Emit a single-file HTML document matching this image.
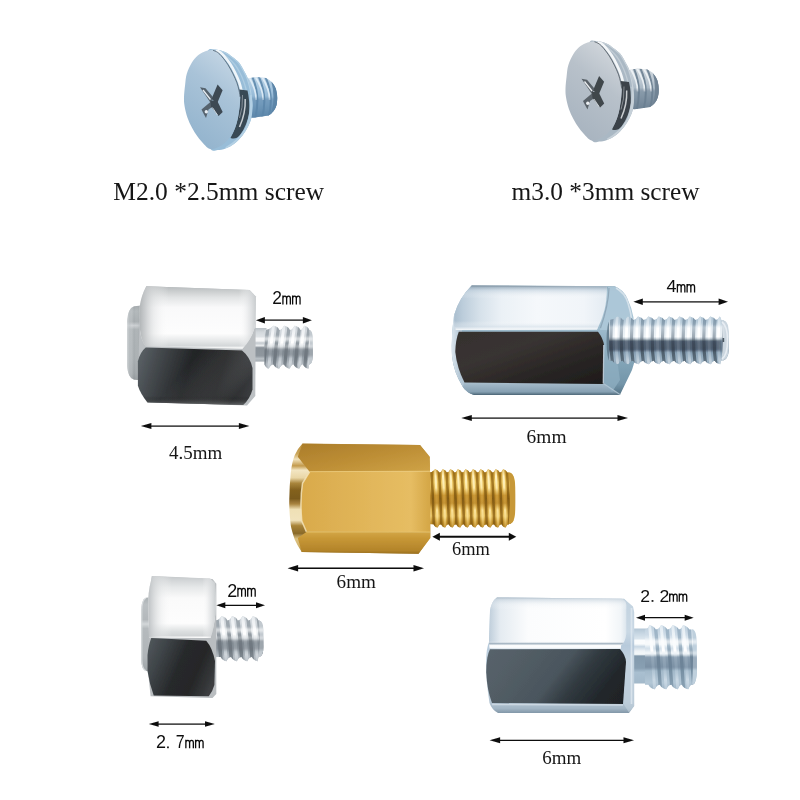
<!DOCTYPE html>
<html>
<head>
<meta charset="utf-8">
<title>Standoff and screw sizes</title>
<style>
html,body{margin:0;padding:0;background:#fff;}
body{width:800px;height:800px;overflow:hidden;position:relative;font-family:"Liberation Serif",serif;}
svg{position:absolute;left:0;top:0;display:block;}
.ser{font-family:"Liberation Serif",serif;fill:#151515;}
.san{font-family:"Liberation Sans",sans-serif;fill:#111;}
</style>
</head>
<body>
<svg width="800" height="800" viewBox="0 0 800 800">
<defs>
  <filter id="soft" x="-5%" y="-5%" width="110%" height="110%"><feGaussianBlur stdDeviation="0.55"/></filter>
  <filter id="soft2" x="-5%" y="-5%" width="110%" height="110%"><feGaussianBlur stdDeviation="1.0"/></filter>
  <filter id="soft3" x="-10%" y="-10%" width="120%" height="120%"><feGaussianBlur stdDeviation="2.2"/></filter>
  <filter id="tsoft" x="-5%" y="-20%" width="110%" height="140%"><feGaussianBlur stdDeviation="0.35"/></filter>
</defs>
<!-- screws -->
<g id="sc1" transform="translate(0 0)" filter="url(#soft)">
  <defs>
  <linearGradient id="sc1th" x1="0" y1="0" x2="0" y2="1">
    <stop offset="0" stop-color="#bcd3e5"/><stop offset="0.3" stop-color="#a3c4de"/><stop offset="0.65" stop-color="#86adcc"/><stop offset="1" stop-color="#5d86a9"/>
  </linearGradient>
  <linearGradient id="sc1face" x1="0.75" y1="0" x2="0.3" y2="1">
    <stop offset="0" stop-color="#c6d7e5"/><stop offset="0.4" stop-color="#a9c3d8"/><stop offset="1" stop-color="#92b3cd"/>
  </linearGradient>
  <clipPath id="sc1rimclip"><path d="M208,50.6 C209.9,48 211.57,49.18 214.4,49.4 C217.23,49.62 221.98,50.65 225,51.9 C228.02,53.15 230.17,55.13 232.5,56.9 C234.83,58.67 237.2,60.4 239,62.5 C240.8,64.6 242.13,67.5 243.3,69.5 C244.47,71.5 245.22,72.92 246,74.5 C246.78,76.08 247.33,77.08 248,79 C248.67,80.92 249.45,83.83 250,86 C250.55,88.17 250.97,90 251.3,92 C251.63,94 251.78,95.67 252,98 C252.22,100.33 252.68,102.75 252.6,106 C252.52,109.25 252.25,114.08 251.5,117.5 C250.75,120.92 249.6,123.5 248.1,126.5 C246.6,129.5 244.75,132.68 242.5,135.5 C240.25,138.32 237.42,141.25 234.6,143.4 C231.78,145.55 228.42,147.28 225.6,148.4 C222.78,149.52 220.13,149.92 217.7,150.1 C215.27,150.28 213.45,152.02 211,149.5 C208.55,146.98 204.83,143.25 203,135 C201.17,126.75 200,111.67 200,100 C200,88.33 201.67,73.23 203,65 C204.33,56.77 206.1,53.2 208,50.6 Z"/></clipPath>
  </defs>
  <!-- thread -->
  <clipPath id="sc1thc"><path d="M246,78.800 L256,77 L266,78 Q273,81.500 276,89 Q278.200,97 276.500,105 Q274.500,112 268.500,115.500 L253,117.800 L246,117 Z"/></clipPath>
  <path d="M246,78.800 L256,77 L266,78 Q273,81.500 276,89 Q278.200,97 276.500,105 Q274.500,112 268.500,115.500 L253,117.800 L246,117 Z" fill="url(#sc1th)"/>
  <g clip-path="url(#sc1thc)">
    <g stroke="#5a85a9" stroke-width="2" fill="none" opacity="0.85">
      <path d="M252,76 Q261,96 255,119"/><path d="M258.500,76 Q268,96 262,118"/><path d="M265,76 Q274.500,96 268.500,117"/><path d="M271,78 Q280,96 274,114"/>
    </g>
    <g stroke="#e3eff8" stroke-width="1.700" fill="none" opacity="0.9">
      <path d="M249,77 Q256.500,90 256,100"/><path d="M255.500,77 Q263.500,90 263,100"/><path d="M262,77 Q270,90 269.500,100"/>
    </g>
    <rect x="244" y="98" width="36" height="22" fill="#5d86a9" opacity="0.5" filter="url(#soft2)"/>
    <path d="M271,80 Q279,90 278,100 Q277,110 270,116 Q276.500,100 271,80Z" fill="#5b84a6" opacity="0.9"/>
  </g>
  <!-- rim -->
  <path d="M208,50.6 C209.9,48 211.57,49.18 214.4,49.4 C217.23,49.62 221.98,50.65 225,51.9 C228.02,53.15 230.17,55.13 232.5,56.9 C234.83,58.67 237.2,60.4 239,62.5 C240.8,64.6 242.13,67.5 243.3,69.5 C244.47,71.5 245.22,72.92 246,74.5 C246.78,76.08 247.33,77.08 248,79 C248.67,80.92 249.45,83.83 250,86 C250.55,88.17 250.97,90 251.3,92 C251.63,94 251.78,95.67 252,98 C252.22,100.33 252.68,102.75 252.6,106 C252.52,109.25 252.25,114.08 251.5,117.5 C250.75,120.92 249.6,123.5 248.1,126.5 C246.6,129.5 244.75,132.68 242.5,135.5 C240.25,138.32 237.42,141.25 234.6,143.4 C231.78,145.55 228.42,147.28 225.6,148.4 C222.78,149.52 220.13,149.92 217.7,150.1 C215.27,150.28 213.45,152.02 211,149.5 C208.55,146.98 204.83,143.25 203,135 C201.17,126.75 200,111.67 200,100 C200,88.33 201.67,73.23 203,65 C204.33,56.77 206.1,53.2 208,50.6 Z" fill="#98bdd8"/>
  <g clip-path="url(#sc1rimclip)">
    <path d="M214.4,49.4 C216.17,49.82 221.98,50.65 225,51.9 C228.02,53.15 230.17,55.13 232.5,56.9 C234.83,58.67 237.2,60.4 239,62.5 C240.8,64.6 242.13,67.5 243.3,69.5 C244.47,71.5 245.22,72.92 246,74.5 C246.78,76.08 247.33,77.08 248,79 C248.67,80.92 249.45,83.83 250,86 C250.55,88.17 250.97,90 251.3,92 C251.63,94 251.88,97 252,98 " stroke="#b3d0e4" stroke-width="2.400" fill="none"/>
    <path d="M222,53.5 C223.17,54.33 226.75,56.5 229,58.5 C231.25,60.5 233.67,63.08 235.5,65.5 C237.33,67.92 238.67,70.42 240,73 C241.33,75.58 242.5,78.33 243.5,81 C244.5,83.67 245.42,86.67 246,89 C246.58,91.33 246.83,94 247,95 " stroke="#b3d0e4" stroke-width="1.300" fill="none" opacity="0.8"/>
    <path d="M216,50.5 C216.67,50.8 218.62,51.33 220,52.3 C221.38,53.27 222.63,54.38 224.3,56.3 C225.97,58.22 228.2,61.05 230,63.8 C231.8,66.55 233.58,69.77 235.1,72.8 C236.62,75.83 238.05,79.1 239.1,82 C240.15,84.9 240.83,87.78 241.4,90.2 C241.97,92.62 242.32,95.45 242.5,96.5 " stroke="#f6fafc" stroke-width="2.600" fill="none" opacity="0.92"/>
    <path d="M239.300,89.500 L247.500,90.500 Q249.800,100 249.200,112 Q247.500,125 240,135 Q236,140 230.500,138 Q236,128 238,117.500 Q240,106 240.200,97 Z" fill="#394855"/>
    <path d="M245.200,99 Q245.800,113 239.500,127" stroke="#f6fafc" stroke-width="1.500" fill="none" opacity="0.75"/>
    <path d="M242.500,95 Q243,108 239.500,118" stroke="#f6fafc" stroke-width="0.800" fill="none" opacity="0.5"/>
    <path d="M251.300,95 Q252.800,112 247,128 Q240,141 226,148.500" stroke="#b3d0e4" stroke-width="3" fill="none"/>
  </g>
  <!-- face -->
  <path d="M212.1,50.1 C214.35,50.2 216.02,51.27 217.7,52.4 C219.38,53.53 220.5,54.85 222.2,56.9 C223.9,58.95 226.12,61.9 227.9,64.7 C229.68,67.5 231.4,70.7 232.9,73.7 C234.4,76.7 235.87,79.88 236.9,82.7 C237.93,85.52 238.55,88.22 239.1,90.6 C239.65,92.98 240.1,94.4 240.2,97 C240.3,99.6 240.07,102.78 239.7,106.2 C239.33,109.62 238.75,113.93 238,117.5 C237.25,121.07 236.33,124.6 235.2,127.6 C234.07,130.6 232.8,133.07 231.2,135.5 C229.6,137.93 227.47,140.42 225.6,142.2 C223.73,143.98 222.07,145.07 220,146.2 C217.93,147.33 215.08,148.63 213.2,149 C211.32,149.37 210.2,149.15 208.7,148.4 C207.2,147.65 206.07,146.47 204.2,144.5 C202.33,142.53 199.55,139.42 197.5,136.6 C195.45,133.78 193.58,130.78 191.9,127.6 C190.22,124.42 188.62,121.07 187.4,117.5 C186.18,113.93 185.17,109.62 184.6,106.2 C184.03,102.78 183.92,100.53 184,97 C184.08,93.47 184.63,88.88 185.1,85 C185.57,81.12 185.67,77.45 186.8,73.7 C187.93,69.95 190.12,65.5 191.9,62.5 C193.68,59.5 195.45,57.48 197.5,55.7 C199.55,53.92 201.77,52.73 204.2,51.8 C206.63,50.87 209.85,50 212.1,50.1 Z" fill="url(#sc1face)"/>
  <path d="M213,50.3 C213.78,50.65 216.17,51.3 217.7,52.4 C219.23,53.5 220.5,54.85 222.2,56.9 C223.9,58.95 226.12,61.9 227.9,64.7 C229.68,67.5 231.4,70.7 232.9,73.7 C234.4,76.7 235.87,79.88 236.9,82.7 C237.93,85.52 238.55,88.22 239.1,90.6 C239.65,92.98 240.02,95.93 240.2,97 " stroke="#394855" stroke-width="0.900" fill="none" opacity="0.75"/>
  <!-- cross -->
  <g>
    <path d="M200,87.300 L205.500,88.300 L212.500,96.500 L211,103.500 L206,96 Z" fill="#55626d"/>
    <path d="M203,90 L210.500,99.500" stroke="#e6edf3" stroke-width="1.300" fill="none"/>
    <path d="M201.500,109.500 L211,101.500 L214.500,105.500 L208.500,109.500 L206,118 L203.500,113.500 Z" fill="#55626d"/>
    <circle cx="206.300" cy="111.800" r="1.700" fill="#e6edf3"/>
    <path d="M211.500,99 L217.600,84.500 L222.600,90.300 L217.200,103.200 Z" fill="#3d4852"/>
    <path d="M210.500,100.500 L217,100.500 L222.700,112 L218.600,116 L211,106.500 Z" fill="#3d4852"/>
    <path d="M212.500,107.500 L217.500,115" stroke="#e6edf3" stroke-width="0.900" fill="none" opacity="0.8"/>
  </g>
</g>

<g id="sc2" transform="translate(381.5 -8.5)" filter="url(#soft)">
  <defs>
  <linearGradient id="sc2th" x1="0" y1="0" x2="0" y2="1">
    <stop offset="0" stop-color="#d0d7dd"/><stop offset="0.3" stop-color="#bcc8d2"/><stop offset="0.65" stop-color="#9aabb9"/><stop offset="1" stop-color="#6e8294"/>
  </linearGradient>
  <linearGradient id="sc2face" x1="0.75" y1="0" x2="0.3" y2="1">
    <stop offset="0" stop-color="#d3d8dd"/><stop offset="0.4" stop-color="#b8c1ca"/><stop offset="1" stop-color="#a7b3bf"/>
  </linearGradient>
  <clipPath id="sc2rimclip"><path d="M208,50.6 C209.9,48 211.57,49.18 214.4,49.4 C217.23,49.62 221.98,50.65 225,51.9 C228.02,53.15 230.17,55.13 232.5,56.9 C234.83,58.67 237.2,60.4 239,62.5 C240.8,64.6 242.13,67.5 243.3,69.5 C244.47,71.5 245.22,72.92 246,74.5 C246.78,76.08 247.33,77.08 248,79 C248.67,80.92 249.45,83.83 250,86 C250.55,88.17 250.97,90 251.3,92 C251.63,94 251.78,95.67 252,98 C252.22,100.33 252.68,102.75 252.6,106 C252.52,109.25 252.25,114.08 251.5,117.5 C250.75,120.92 249.6,123.5 248.1,126.5 C246.6,129.5 244.75,132.68 242.5,135.5 C240.25,138.32 237.42,141.25 234.6,143.4 C231.78,145.55 228.42,147.28 225.6,148.4 C222.78,149.52 220.13,149.92 217.7,150.1 C215.27,150.28 213.45,152.02 211,149.5 C208.55,146.98 204.83,143.25 203,135 C201.17,126.75 200,111.67 200,100 C200,88.33 201.67,73.23 203,65 C204.33,56.77 206.1,53.2 208,50.6 Z"/></clipPath>
  </defs>
  <!-- thread -->
  <clipPath id="sc2thc"><path d="M246,78.800 L256,77 L266,78 Q273,81.500 276,89 Q278.200,97 276.500,105 Q274.500,112 268.500,115.500 L253,117.800 L246,117 Z"/></clipPath>
  <path d="M246,78.800 L256,77 L266,78 Q273,81.500 276,89 Q278.200,97 276.500,105 Q274.500,112 268.500,115.500 L253,117.800 L246,117 Z" fill="url(#sc2th)"/>
  <g clip-path="url(#sc2thc)">
    <g stroke="#677c8e" stroke-width="2" fill="none" opacity="0.85">
      <path d="M252,76 Q261,96 255,119"/><path d="M258.500,76 Q268,96 262,118"/><path d="M265,76 Q274.500,96 268.500,117"/><path d="M271,78 Q280,96 274,114"/>
    </g>
    <g stroke="#f0f4f7" stroke-width="1.700" fill="none" opacity="0.9">
      <path d="M249,77 Q256.500,90 256,100"/><path d="M255.500,77 Q263.500,90 263,100"/><path d="M262,77 Q270,90 269.500,100"/>
    </g>
    <rect x="244" y="98" width="36" height="22" fill="#6e8294" opacity="0.5" filter="url(#soft2)"/>
    <path d="M271,80 Q279,90 278,100 Q277,110 270,116 Q276.500,100 271,80Z" fill="#6f8292" opacity="0.9"/>
  </g>
  <!-- rim -->
  <path d="M208,50.6 C209.9,48 211.57,49.18 214.4,49.4 C217.23,49.62 221.98,50.65 225,51.9 C228.02,53.15 230.17,55.13 232.5,56.9 C234.83,58.67 237.2,60.4 239,62.5 C240.8,64.6 242.13,67.5 243.3,69.5 C244.47,71.5 245.22,72.92 246,74.5 C246.78,76.08 247.33,77.08 248,79 C248.67,80.92 249.45,83.83 250,86 C250.55,88.17 250.97,90 251.3,92 C251.63,94 251.78,95.67 252,98 C252.22,100.33 252.68,102.75 252.6,106 C252.52,109.25 252.25,114.08 251.5,117.5 C250.75,120.92 249.6,123.5 248.1,126.5 C246.6,129.5 244.75,132.68 242.5,135.5 C240.25,138.32 237.42,141.25 234.6,143.4 C231.78,145.55 228.42,147.28 225.6,148.4 C222.78,149.52 220.13,149.92 217.7,150.1 C215.27,150.28 213.45,152.02 211,149.5 C208.55,146.98 204.83,143.25 203,135 C201.17,126.75 200,111.67 200,100 C200,88.33 201.67,73.23 203,65 C204.33,56.77 206.1,53.2 208,50.6 Z" fill="#aab8c4"/>
  <g clip-path="url(#sc2rimclip)">
    <path d="M214.4,49.4 C216.17,49.82 221.98,50.65 225,51.9 C228.02,53.15 230.17,55.13 232.5,56.9 C234.83,58.67 237.2,60.4 239,62.5 C240.8,64.6 242.13,67.5 243.3,69.5 C244.47,71.5 245.22,72.92 246,74.5 C246.78,76.08 247.33,77.08 248,79 C248.67,80.92 249.45,83.83 250,86 C250.55,88.17 250.97,90 251.3,92 C251.63,94 251.88,97 252,98 " stroke="#c6d0d8" stroke-width="2.400" fill="none"/>
    <path d="M222,53.5 C223.17,54.33 226.75,56.5 229,58.5 C231.25,60.5 233.67,63.08 235.5,65.5 C237.33,67.92 238.67,70.42 240,73 C241.33,75.58 242.5,78.33 243.5,81 C244.5,83.67 245.42,86.67 246,89 C246.58,91.33 246.83,94 247,95 " stroke="#c6d0d8" stroke-width="1.300" fill="none" opacity="0.8"/>
    <path d="M216,50.5 C216.67,50.8 218.62,51.33 220,52.3 C221.38,53.27 222.63,54.38 224.3,56.3 C225.97,58.22 228.2,61.05 230,63.8 C231.8,66.55 233.58,69.77 235.1,72.8 C236.62,75.83 238.05,79.1 239.1,82 C240.15,84.9 240.83,87.78 241.4,90.2 C241.97,92.62 242.32,95.45 242.5,96.5 " stroke="#fafbfc" stroke-width="2.600" fill="none" opacity="0.92"/>
    <path d="M239.300,89.500 L247.500,90.500 Q249.800,100 249.200,112 Q247.500,125 240,135 Q236,140 230.500,138 Q236,128 238,117.500 Q240,106 240.200,97 Z" fill="#3a4249"/>
    <path d="M245.200,99 Q245.800,113 239.500,127" stroke="#fafbfc" stroke-width="1.500" fill="none" opacity="0.75"/>
    <path d="M242.500,95 Q243,108 239.500,118" stroke="#fafbfc" stroke-width="0.800" fill="none" opacity="0.5"/>
    <path d="M251.300,95 Q252.800,112 247,128 Q240,141 226,148.500" stroke="#c6d0d8" stroke-width="3" fill="none"/>
  </g>
  <!-- face -->
  <path d="M212.1,50.1 C214.35,50.2 216.02,51.27 217.7,52.4 C219.38,53.53 220.5,54.85 222.2,56.9 C223.9,58.95 226.12,61.9 227.9,64.7 C229.68,67.5 231.4,70.7 232.9,73.7 C234.4,76.7 235.87,79.88 236.9,82.7 C237.93,85.52 238.55,88.22 239.1,90.6 C239.65,92.98 240.1,94.4 240.2,97 C240.3,99.6 240.07,102.78 239.7,106.2 C239.33,109.62 238.75,113.93 238,117.5 C237.25,121.07 236.33,124.6 235.2,127.6 C234.07,130.6 232.8,133.07 231.2,135.5 C229.6,137.93 227.47,140.42 225.6,142.2 C223.73,143.98 222.07,145.07 220,146.2 C217.93,147.33 215.08,148.63 213.2,149 C211.32,149.37 210.2,149.15 208.7,148.4 C207.2,147.65 206.07,146.47 204.2,144.5 C202.33,142.53 199.55,139.42 197.5,136.6 C195.45,133.78 193.58,130.78 191.9,127.6 C190.22,124.42 188.62,121.07 187.4,117.5 C186.18,113.93 185.17,109.62 184.6,106.2 C184.03,102.78 183.92,100.53 184,97 C184.08,93.47 184.63,88.88 185.1,85 C185.57,81.12 185.67,77.45 186.8,73.7 C187.93,69.95 190.12,65.5 191.9,62.5 C193.68,59.5 195.45,57.48 197.5,55.7 C199.55,53.92 201.77,52.73 204.2,51.8 C206.63,50.87 209.85,50 212.1,50.1 Z" fill="url(#sc2face)"/>
  <path d="M213,50.3 C213.78,50.65 216.17,51.3 217.7,52.4 C219.23,53.5 220.5,54.85 222.2,56.9 C223.9,58.95 226.12,61.9 227.9,64.7 C229.68,67.5 231.4,70.7 232.9,73.7 C234.4,76.7 235.87,79.88 236.9,82.7 C237.93,85.52 238.55,88.22 239.1,90.6 C239.65,92.98 240.02,95.93 240.2,97 " stroke="#3a4249" stroke-width="0.900" fill="none" opacity="0.75"/>
  <!-- cross -->
  <g>
    <path d="M200,87.300 L205.500,88.300 L212.500,96.500 L211,103.500 L206,96 Z" fill="#5a6269"/>
    <path d="M203,90 L210.500,99.500" stroke="#eceff2" stroke-width="1.300" fill="none"/>
    <path d="M201.500,109.500 L211,101.500 L214.500,105.500 L208.500,109.500 L206,118 L203.500,113.500 Z" fill="#5a6269"/>
    <circle cx="206.300" cy="111.800" r="1.700" fill="#eceff2"/>
    <path d="M211.500,99 L217.600,84.500 L222.600,90.300 L217.200,103.200 Z" fill="#3f464c"/>
    <path d="M210.500,100.500 L217,100.500 L222.700,112 L218.600,116 L211,106.500 Z" fill="#3f464c"/>
    <path d="M212.500,107.500 L217.500,115" stroke="#eceff2" stroke-width="0.900" fill="none" opacity="0.8"/>
  </g>
</g>

<!-- standoff 1 -->
<g id="st1" filter="url(#soft)">
  <defs>
    <linearGradient id="st1fl" gradientUnits="userSpaceOnUse" x1="0" y1="305" x2="0" y2="381"><stop offset="0" stop-color="#9da3a6"/><stop offset="0.08" stop-color="#aeb4b7"/><stop offset="0.22" stop-color="#a4aaad"/><stop offset="0.27" stop-color="#c9cdd0"/><stop offset="0.32" stop-color="#a9afb2"/><stop offset="0.7" stop-color="#a5abae"/><stop offset="0.9" stop-color="#9ca2a5"/><stop offset="1" stop-color="#8d9396"/></linearGradient>
    <linearGradient id="st1fh" gradientUnits="userSpaceOnUse" x1="127" y1="0" x2="141" y2="0"><stop offset="0" stop-color="#d5d9db" stop-opacity="0.9"/><stop offset="0.2" stop-color="#c5cacd" stop-opacity="0.5"/><stop offset="0.5" stop-color="#fff" stop-opacity="0"/><stop offset="1" stop-color="#8f9598" stop-opacity="0.4"/></linearGradient>
    <linearGradient id="st1top" gradientUnits="userSpaceOnUse" x1="0" y1="287" x2="0" y2="349"><stop offset="0" stop-color="#b9bdbf"/><stop offset="0.07" stop-color="#cbcecf"/><stop offset="0.17" stop-color="#e2e4e5"/><stop offset="0.33" stop-color="#f9f9fa"/><stop offset="0.75" stop-color="#fdfdfd"/><stop offset="0.88" stop-color="#e3e5e6"/><stop offset="0.95" stop-color="#d3d6d8"/><stop offset="0.98" stop-color="#f6f7f7"/><stop offset="1" stop-color="#ffffff"/></linearGradient>
    <linearGradient id="st1topl" gradientUnits="userSpaceOnUse" x1="139.500" y1="0" x2="256.500" y2="0"><stop offset="0" stop-color="#adb1b3" stop-opacity="0.95"/><stop offset="0.05" stop-color="#c3c6c8" stop-opacity="0.85"/><stop offset="0.12" stop-color="#dcdedf" stop-opacity="0.5"/><stop offset="0.25" stop-color="#ffffff" stop-opacity="0"/><stop offset="0.85" stop-color="#ffffff" stop-opacity="0"/><stop offset="0.93" stop-color="#dfe1e3" stop-opacity="0.6"/><stop offset="1" stop-color="#c3c7c9" stop-opacity="0.95"/></linearGradient>
    <linearGradient id="st1dk" gradientUnits="userSpaceOnUse" x1="138" y1="350" x2="253" y2="385"><stop offset="0" stop-color="#5c6368"/><stop offset="0.16" stop-color="#474c50"/><stop offset="0.45" stop-color="#232527"/><stop offset="0.72" stop-color="#1f2021"/><stop offset="0.9" stop-color="#303234"/><stop offset="1" stop-color="#3a3c3f"/></linearGradient>
    <linearGradient id="st1dk2" gradientUnits="userSpaceOnUse" x1="0" y1="346" x2="0" y2="405">
      <stop offset="0" stop-color="#000" stop-opacity="0"/><stop offset="0.85" stop-color="#000" stop-opacity="0"/><stop offset="1" stop-color="#7c7f81" stop-opacity="0.65"/>
    </linearGradient>
    <linearGradient id="st1dk3" gradientUnits="userSpaceOnUse" x1="200" y1="350" x2="255" y2="395">
      <stop offset="0" stop-color="#fff" stop-opacity="0"/><stop offset="0.55" stop-color="#9a9da0" stop-opacity="0.18"/><stop offset="0.8" stop-color="#fff" stop-opacity="0"/>
    </linearGradient>
    <linearGradient id="st1nk" gradientUnits="userSpaceOnUse" x1="0" y1="328" x2="0" y2="362"><stop offset="0" stop-color="#b9c0c5"/><stop offset="0.12" stop-color="#d3d8dc"/><stop offset="0.26" stop-color="#dfe3e6"/><stop offset="0.3" stop-color="#f6f7f8"/><stop offset="0.38" stop-color="#f6f7f8"/><stop offset="0.44" stop-color="#c2c8cd"/><stop offset="0.52" stop-color="#e9ecee"/><stop offset="0.58" stop-color="#8a9299"/><stop offset="0.82" stop-color="#8f979e"/><stop offset="0.9" stop-color="#b9c0c5"/><stop offset="1" stop-color="#a1a8ae"/></linearGradient>
  </defs>
  <!-- flange -->
  <path d="M142,305.600 L134,306.200 Q127.600,308.500 127.300,321 L127.300,366 Q127.800,378 134,379.800 L142,380.300 Z" fill="url(#st1fl)"/>
  <path d="M142,305.600 L134,306.200 Q127.600,308.500 127.300,321 L127.300,366 Q127.800,378 134,379.800 L142,380.300 Z" fill="url(#st1fh)"/>
  <!-- neck -->
  <rect x="252" y="328" width="14.500" height="33.600" fill="url(#st1nk)"/>
  <defs><linearGradient id="st1tg" gradientUnits="userSpaceOnUse" x1="0" y1="325.7" x2="0" y2="368.6"><stop offset="0" stop-color="#c3cad0"/><stop offset="0.12" stop-color="#d5dadf"/><stop offset="0.25" stop-color="#cdd3d8"/><stop offset="0.34" stop-color="#e6eaed"/><stop offset="0.44" stop-color="#dfe3e7"/><stop offset="0.52" stop-color="#aeb6bd"/><stop offset="0.6" stop-color="#8f98a0"/><stop offset="0.78" stop-color="#9aa3ab"/><stop offset="0.9" stop-color="#b5bcc3"/><stop offset="1" stop-color="#a3abb2"/></linearGradient><linearGradient id="st1tgr" gradientUnits="userSpaceOnUse" x1="0" y1="325.7" x2="0" y2="368.6"><stop offset="0" stop-color="#8c969e" stop-opacity="0.75"/><stop offset="0.3" stop-color="#929ca4" stop-opacity="0.8"/><stop offset="0.5" stop-color="#737c84" stop-opacity="0.9"/><stop offset="0.75" stop-color="#6b747c" stop-opacity="0.9"/><stop offset="1" stop-color="#7b858d" stop-opacity="0.85"/></linearGradient><linearGradient id="st1thl" gradientUnits="userSpaceOnUse" x1="0" y1="325.7" x2="0" y2="368.6"><stop offset="0" stop-color="#e9edf0" stop-opacity="0.9"/><stop offset="0.2" stop-color="#f4f6f8" stop-opacity="0.95"/><stop offset="0.4" stop-color="#ffffff" stop-opacity="1"/><stop offset="0.52" stop-color="#d0d6db" stop-opacity="0.6"/><stop offset="0.65" stop-color="#b7bfc6" stop-opacity="0.7"/><stop offset="0.85" stop-color="#d3d9de" stop-opacity="0.9"/><stop offset="1" stop-color="#c6cdd3" stop-opacity="0.85"/></linearGradient><clipPath id="st1tc"><path d="M264.5,329.9 Q269.05,329.9 273.6,325.7 Q277.64,326.33 279.38,329.9 Q281.74,329.9 284.1,325.7 Q288.14,326.33 289.88,329.9 Q292.24,329.9 294.6,325.7 Q298.64,326.33 300.38,329.9 Q302.29,329.9 304.2,325.7 Q307.77,326.33 309.3,329.9 Q312.8,330.4 312.8,339.39 L312.8,354.91 Q312.8,363.9 309.3,364.4 Q308.95,364.4 308.6,368.6 Q304.56,367.97 302.83,364.4 Q301.06,364.4 299.3,368.6 Q295.26,367.97 293.53,364.4 Q291.61,364.4 289.7,368.6 Q285.66,367.97 283.93,364.4 Q281.56,364.4 279.2,368.6 Q275.16,367.97 273.43,364.4 Q271.06,364.4 268.7,368.6 Q265.76,367.97 264.5,364.4 L264.5,364.4 Z"/></clipPath></defs>
<path d="M264.5,329.9 Q269.05,329.9 273.6,325.7 Q277.64,326.33 279.38,329.9 Q281.74,329.9 284.1,325.7 Q288.14,326.33 289.88,329.9 Q292.24,329.9 294.6,325.7 Q298.64,326.33 300.38,329.9 Q302.29,329.9 304.2,325.7 Q307.77,326.33 309.3,329.9 Q312.8,330.4 312.8,339.39 L312.8,354.91 Q312.8,363.9 309.3,364.4 Q308.95,364.4 308.6,368.6 Q304.56,367.97 302.83,364.4 Q301.06,364.4 299.3,368.6 Q295.26,367.97 293.53,364.4 Q291.61,364.4 289.7,368.6 Q285.66,367.97 283.93,364.4 Q281.56,364.4 279.2,368.6 Q275.16,367.97 273.43,364.4 Q271.06,364.4 268.7,368.6 Q265.76,367.97 264.5,364.4 L264.5,364.4 Z" fill="url(#st1tg)"/>
<g clip-path="url(#st1tc)">
<path d="M278.85,324.7 Q275.6,347.15 273.95,369.6" stroke="url(#st1tgr)" stroke-width="3.3" fill="none"/>
<path d="M273.6,324.7 Q270.35,347.15 268.7,369.6" stroke="url(#st1thl)" stroke-width="3.0" fill="none"/>
<path d="M289.35,324.7 Q286.1,347.15 284.45,369.6" stroke="url(#st1tgr)" stroke-width="3.3" fill="none"/>
<path d="M284.1,324.7 Q280.85,347.15 279.2,369.6" stroke="url(#st1thl)" stroke-width="3.0" fill="none"/>
<path d="M299.85,324.7 Q296.6,347.15 294.95,369.6" stroke="url(#st1tgr)" stroke-width="3.3" fill="none"/>
<path d="M294.6,324.7 Q291.35,347.15 289.7,369.6" stroke="url(#st1thl)" stroke-width="3.0" fill="none"/>
<path d="M309.45,324.7 Q306.2,347.15 304.55,369.6" stroke="url(#st1tgr)" stroke-width="3.3" fill="none"/>
<path d="M304.2,324.7 Q300.95,347.15 299.3,369.6" stroke="url(#st1thl)" stroke-width="3.0" fill="none"/>
<path d="M313.5,324.7 Q310.25,347.15 308.6,369.6" stroke="url(#st1thl)" stroke-width="3.0" fill="none"/>
<path d="M268.35,324.7 Q265.1,347.15 263.45,369.6" stroke="url(#st1tgr)" stroke-width="3.3" fill="none"/>
<path d="M308.8,325.7 Q313.8,329.9 313.3,347.15 Q313.8,364.4 308.8,368.6 Q310.88,347.15 308.8,325.7 Z" fill="#c2c9cf"/>
<g filter="url(#soft2)"><rect x="255" y="336.800" width="60" height="4.200" fill="#ffffff" opacity="0.55"/><rect x="255" y="345.300" width="60" height="2" fill="#ffffff" opacity="0.45"/><rect x="255" y="348" width="60" height="8.500" fill="#6c747b" opacity="0.42"/></g></g>

  <!-- gray chamfer backing (right side) -->
  <path d="M146.400,286.300 L249.500,290 L255.800,296.500 L255.300,396 L247,405.400 L150,402.300 L138.300,370 L139.800,306 Z" fill="#bcc0c3"/>
  <!-- top light face -->
  <path d="M146.400,286.300 L249.500,290 L255.800,296.500 Q256.300,315 254.500,328 Q251,340 242.500,348.800 L145.500,346.200 Q141,340 140,330 L139.800,306 Q141.500,295 146.400,286.300 Z" fill="url(#st1top)"/>
  <path d="M146.400,286.300 L249.500,290 L255.800,296.500 Q256.300,315 254.500,328 Q251,340 242.500,348.800 L145.500,346.200 Q141,340 140,330 L139.800,306 Q141.500,295 146.400,286.300 Z" fill="url(#st1topl)"/>
  <!-- dark face -->
  <path d="M145.750,347.400 L242,350.600 Q250,357 252.500,368 L252.500,389.500 Q250,399 243,405 L147.500,402.400 Q140.500,394 137.900,385.750 L137.900,361.250 Q140,352 145.750,347.400 Z" fill="url(#st1dk)"/>
  <path d="M145.750,347.400 L242,350.600 Q250,357 252.500,368 L252.500,389.500 Q250,399 243,405 L147.500,402.400 Q140.500,394 137.900,385.750 L137.900,361.250 Q140,352 145.750,347.400 Z" fill="url(#st1dk2)"/>
  <path d="M145.750,347.400 L242,350.600 Q250,357 252.500,368 L252.500,389.500 Q250,399 243,405 L147.500,402.400 Q140.500,394 137.900,385.750 L137.900,361.250 Q140,352 145.750,347.400 Z" fill="url(#st1dk3)"/>
</g>

<!-- standoff 2 -->
<g id="st2" filter="url(#soft)">
  <defs>
    <linearGradient id="st2top" gradientUnits="userSpaceOnUse" x1="452" y1="0" x2="607" y2="0"><stop offset="0" stop-color="#a5bacb"/><stop offset="0.07" stop-color="#bccddb"/><stop offset="0.18" stop-color="#d6e1ea"/><stop offset="0.32" stop-color="#ebf1f6"/><stop offset="0.55" stop-color="#f5f8fb"/><stop offset="0.85" stop-color="#f1f5f9"/><stop offset="1" stop-color="#e3ebf2"/></linearGradient>
    <linearGradient id="st2topv" gradientUnits="userSpaceOnUse" x1="0" y1="285" x2="0" y2="330">
      <stop offset="0" stop-color="#586d7e" stop-opacity="0.95"/><stop offset="0.05" stop-color="#8da2b3" stop-opacity="0.7"/><stop offset="0.12" stop-color="#b9cad8" stop-opacity="0.5"/><stop offset="0.3" stop-color="#fff" stop-opacity="0"/><stop offset="0.8" stop-color="#fff" stop-opacity="0"/><stop offset="0.92" stop-color="#d5e0e9" stop-opacity="0.6"/><stop offset="1" stop-color="#ffffff" stop-opacity="0.9"/>
    </linearGradient>
    <linearGradient id="st2dk" x1="0" y1="0" x2="1" y2="1">
      <stop offset="0" stop-color="#35302e"/><stop offset="0.35" stop-color="#393432"/><stop offset="0.7" stop-color="#282524"/><stop offset="1" stop-color="#1d1b1a"/>
    </linearGradient>
    <linearGradient id="st2bot" gradientUnits="userSpaceOnUse" x1="0" y1="381" x2="0" y2="395.500">
      <stop offset="0" stop-color="#b3c6d3"/><stop offset="0.3" stop-color="#9db4c4"/><stop offset="0.75" stop-color="#86a0b2"/><stop offset="0.9" stop-color="#5d7889"/><stop offset="1" stop-color="#3c5564"/>
    </linearGradient>
    <linearGradient id="st2rt" gradientUnits="userSpaceOnUse" x1="0" y1="285" x2="0" y2="395"><stop offset="0" stop-color="#86a3b5"/><stop offset="0.06" stop-color="#a3c0d0"/><stop offset="0.3" stop-color="#a9c5d5"/><stop offset="0.45" stop-color="#98b6c8"/><stop offset="0.7" stop-color="#82a4b7"/><stop offset="0.9" stop-color="#7395a9"/><stop offset="1" stop-color="#557385"/></linearGradient>
    <linearGradient id="st2lf" gradientUnits="userSpaceOnUse" x1="451" y1="0" x2="475" y2="0">
      <stop offset="0" stop-color="#dfe8ef"/><stop offset="0.35" stop-color="#b7c9d7"/><stop offset="1" stop-color="#a3b9c9"/>
    </linearGradient>
  </defs>
  <path d="M471.800,285.400 L614.750,286.200 Q624,290 627.500,298.750 Q631.500,307 633.500,317.500 L634.250,362.500 L632,370 L620,394.750 L474,395 Q466,392 462.900,387 Q453.500,372 452,356 Q451,335 454,315.600 Q459,298 471.800,285.400 Z" fill="url(#st2rt)"/>
  <!-- left rounded edge -->
  <path d="M471.800,285.400 Q459,298 454,315.600 Q451,335 452,356 Q453.500,372 462.900,387 Q466,392 474,395 L476,382 L462,360 L462,325 L476,290 Z" fill="url(#st2lf)"/>
  <!-- bottom face -->
  <path d="M464,382 L604,383.800 L620.500,394.800 L474,395 Q466,392 462.900,387 Z" fill="url(#st2bot)"/>
  <!-- top face -->
  <path d="M471.800,285.600 L606.800,286.400 Q607,300 604.500,310 Q602,320 597,329.500 L455.500,330 Q453.500,322 454.500,314 Q459,298 471.800,285.600 Z" fill="url(#st2top)"/>
  <path d="M471.800,285.600 L606.800,286.400 Q607,300 604.500,310 Q602,320 597,329.500 L455.500,330 Q453.500,322 454.500,314 Q459,298 471.800,285.600 Z" fill="url(#st2topv)"/>
  <!-- dark face -->
  <path d="M458.800,331.700 L598,331.700 Q603,338 604,345 L603.500,384 L464.500,382.400 Q457,368 455.300,352 Q455.500,340 458.800,331.700 Z" fill="url(#st2dk)"/>
  <!-- right chamfer accents -->
  <path d="M608,287 L614.750,286.600 Q624,290.500 627,299 Q630.500,307 632.500,318 L632.800,330 L600,330 Q605,318 607,305 Z" fill="#adc8d8" opacity="0.9"/>
  <path d="M609,288 Q608.500,305 600.500,328" stroke="#8ca3b5" stroke-width="1.200" fill="none" opacity="0.9"/>
  <path d="M616,288 Q625,293 628,303 Q631,312 632,322" stroke="#dbe5ed" stroke-width="1.600" fill="none" opacity="0.85"/>
  <path d="M604.500,346 Q612,352 618,366 L620,380 L612,392 L604,383 Z" fill="#8fafc1" opacity="0.75"/>
  <path d="M603.800,345 L603.300,383.500" stroke="#c3d3df" stroke-width="1.300" fill="none" opacity="0.9"/>
  <path d="M603.500,383.500 L620,394.500" stroke="#b5c8d6" stroke-width="1.200" fill="none" opacity="0.8"/>
  <ellipse cx="610" cy="341" rx="3.500" ry="20" fill="#3f5566" opacity="0.55"/>
  <defs><linearGradient id="st2tg" gradientUnits="userSpaceOnUse" x1="0" y1="316.5" x2="0" y2="364.3"><stop offset="0" stop-color="#a9bfd0"/><stop offset="0.12" stop-color="#b9ccda"/><stop offset="0.22" stop-color="#d9e4ec"/><stop offset="0.42" stop-color="#e3ebf1"/><stop offset="0.5" stop-color="#7a91a4"/><stop offset="0.7" stop-color="#6f879b"/><stop offset="0.78" stop-color="#8ba3b7"/><stop offset="0.92" stop-color="#9db3c4"/><stop offset="1" stop-color="#8aa1b4"/></linearGradient><linearGradient id="st2tgr" gradientUnits="userSpaceOnUse" x1="0" y1="316.5" x2="0" y2="364.3"><stop offset="0" stop-color="#6f8699" stop-opacity="0.75"/><stop offset="0.2" stop-color="#7c93a6" stop-opacity="0.75"/><stop offset="0.45" stop-color="#55697a" stop-opacity="0.9"/><stop offset="0.7" stop-color="#44535f" stop-opacity="0.9"/><stop offset="1" stop-color="#5c6f7e" stop-opacity="0.9"/></linearGradient><linearGradient id="st2thl" gradientUnits="userSpaceOnUse" x1="0" y1="316.5" x2="0" y2="364.3"><stop offset="0" stop-color="#d3dfe8" stop-opacity="0.75"/><stop offset="0.18" stop-color="#e6eef4" stop-opacity="0.85"/><stop offset="0.25" stop-color="#ffffff" stop-opacity="1"/><stop offset="0.42" stop-color="#ffffff" stop-opacity="1"/><stop offset="0.5" stop-color="#b3c5d3" stop-opacity="0.55"/><stop offset="0.7" stop-color="#9fb4c5" stop-opacity="0.7"/><stop offset="0.9" stop-color="#c3d1dc" stop-opacity="0.85"/><stop offset="1" stop-color="#d3dee7" stop-opacity="0.8"/></linearGradient><clipPath id="st2tc"><path d="M609,320.1 Q613.2,320.1 617.4,316.5 Q621.37,317.04 623.07,320.1 Q625.38,320.1 627.7,316.5 Q631.67,317.04 633.37,320.1 Q635.68,320.1 638,316.5 Q641.97,317.04 643.67,320.1 Q646.03,320.1 648.4,316.5 Q652.37,317.04 654.07,320.1 Q656.41,320.1 658.75,316.5 Q662.72,317.04 664.42,320.1 Q666.71,320.1 669,316.5 Q672.97,317.04 674.67,320.1 Q677.03,320.1 679.4,316.5 Q683.37,317.04 685.07,320.1 Q687.38,320.1 689.7,316.5 Q693.67,317.04 695.37,320.1 Q697.68,320.1 700,316.5 Q703.97,317.04 705.67,320.1 Q707.98,320.1 710.3,316.5 Q714.27,317.04 715.97,320.1 Q717.83,320.1 719.7,316.5 Q720.82,317.04 721.3,320.1 Q728.8,320.6 728.8,331.26 L728.8,349.53 Q728.8,360.2 721.3,360.7 Q720.75,360.7 720.2,364.3 Q716.23,363.76 714.53,360.7 Q712.67,360.7 710.8,364.3 Q706.83,363.76 705.13,360.7 Q702.82,360.7 700.5,364.3 Q696.53,363.76 694.83,360.7 Q692.52,360.7 690.2,364.3 Q686.23,363.76 684.53,360.7 Q682.22,360.7 679.9,364.3 Q675.93,363.76 674.23,360.7 L674.13,360.7 Q671.82,360.7 669.5,364.3 Q665.53,363.76 663.83,360.7 Q661.54,360.7 659.25,364.3 Q655.28,363.76 653.58,360.7 L653.53,360.7 Q651.22,360.7 648.9,364.3 Q644.93,363.76 643.23,360.7 L643.13,360.7 Q640.82,360.7 638.5,364.3 Q634.53,363.76 632.83,360.7 Q630.52,360.7 628.2,364.3 Q624.23,363.76 622.53,360.7 Q620.22,360.7 617.9,364.3 Q613.93,363.76 612.23,360.7 L609,360.7 Z"/></clipPath></defs>
<path d="M609,320.1 Q613.2,320.1 617.4,316.5 Q621.37,317.04 623.07,320.1 Q625.38,320.1 627.7,316.5 Q631.67,317.04 633.37,320.1 Q635.68,320.1 638,316.5 Q641.97,317.04 643.67,320.1 Q646.03,320.1 648.4,316.5 Q652.37,317.04 654.07,320.1 Q656.41,320.1 658.75,316.5 Q662.72,317.04 664.42,320.1 Q666.71,320.1 669,316.5 Q672.97,317.04 674.67,320.1 Q677.03,320.1 679.4,316.5 Q683.37,317.04 685.07,320.1 Q687.38,320.1 689.7,316.5 Q693.67,317.04 695.37,320.1 Q697.68,320.1 700,316.5 Q703.97,317.04 705.67,320.1 Q707.98,320.1 710.3,316.5 Q714.27,317.04 715.97,320.1 Q717.83,320.1 719.7,316.5 Q720.82,317.04 721.3,320.1 Q728.8,320.6 728.8,331.26 L728.8,349.53 Q728.8,360.2 721.3,360.7 Q720.75,360.7 720.2,364.3 Q716.23,363.76 714.53,360.7 Q712.67,360.7 710.8,364.3 Q706.83,363.76 705.13,360.7 Q702.82,360.7 700.5,364.3 Q696.53,363.76 694.83,360.7 Q692.52,360.7 690.2,364.3 Q686.23,363.76 684.53,360.7 Q682.22,360.7 679.9,364.3 Q675.93,363.76 674.23,360.7 L674.13,360.7 Q671.82,360.7 669.5,364.3 Q665.53,363.76 663.83,360.7 Q661.54,360.7 659.25,364.3 Q655.28,363.76 653.58,360.7 L653.53,360.7 Q651.22,360.7 648.9,364.3 Q644.93,363.76 643.23,360.7 L643.13,360.7 Q640.82,360.7 638.5,364.3 Q634.53,363.76 632.83,360.7 Q630.52,360.7 628.2,364.3 Q624.23,363.76 622.53,360.7 Q620.22,360.7 617.9,364.3 Q613.93,363.76 612.23,360.7 L609,360.7 Z" fill="url(#st2tg)"/>
<g clip-path="url(#st2tc)">
<path d="M622.55,315.5 Q619.6,340.4 623.05,365.3" stroke="url(#st2tgr)" stroke-width="3.2" fill="none"/>
<path d="M617.4,315.5 Q614.45,340.4 617.9,365.3" stroke="url(#st2thl)" stroke-width="2.8" fill="none"/>
<path d="M632.85,315.5 Q629.9,340.4 633.35,365.3" stroke="url(#st2tgr)" stroke-width="3.2" fill="none"/>
<path d="M627.7,315.5 Q624.75,340.4 628.2,365.3" stroke="url(#st2thl)" stroke-width="2.8" fill="none"/>
<path d="M643.15,315.5 Q640.2,340.4 643.65,365.3" stroke="url(#st2tgr)" stroke-width="3.2" fill="none"/>
<path d="M638,315.5 Q635.05,340.4 638.5,365.3" stroke="url(#st2thl)" stroke-width="2.8" fill="none"/>
<path d="M653.55,315.5 Q650.6,340.4 654.05,365.3" stroke="url(#st2tgr)" stroke-width="3.2" fill="none"/>
<path d="M648.4,315.5 Q645.45,340.4 648.9,365.3" stroke="url(#st2thl)" stroke-width="2.8" fill="none"/>
<path d="M663.9,315.5 Q660.95,340.4 664.4,365.3" stroke="url(#st2tgr)" stroke-width="3.2" fill="none"/>
<path d="M658.75,315.5 Q655.8,340.4 659.25,365.3" stroke="url(#st2thl)" stroke-width="2.8" fill="none"/>
<path d="M674.15,315.5 Q671.2,340.4 674.65,365.3" stroke="url(#st2tgr)" stroke-width="3.2" fill="none"/>
<path d="M669,315.5 Q666.05,340.4 669.5,365.3" stroke="url(#st2thl)" stroke-width="2.8" fill="none"/>
<path d="M684.55,315.5 Q681.6,340.4 685.05,365.3" stroke="url(#st2tgr)" stroke-width="3.2" fill="none"/>
<path d="M679.4,315.5 Q676.45,340.4 679.9,365.3" stroke="url(#st2thl)" stroke-width="2.8" fill="none"/>
<path d="M694.85,315.5 Q691.9,340.4 695.35,365.3" stroke="url(#st2tgr)" stroke-width="3.2" fill="none"/>
<path d="M689.7,315.5 Q686.75,340.4 690.2,365.3" stroke="url(#st2thl)" stroke-width="2.8" fill="none"/>
<path d="M705.15,315.5 Q702.2,340.4 705.65,365.3" stroke="url(#st2tgr)" stroke-width="3.2" fill="none"/>
<path d="M700,315.5 Q697.05,340.4 700.5,365.3" stroke="url(#st2thl)" stroke-width="2.8" fill="none"/>
<path d="M715.45,315.5 Q712.5,340.4 715.95,365.3" stroke="url(#st2tgr)" stroke-width="3.2" fill="none"/>
<path d="M710.3,315.5 Q707.35,340.4 710.8,365.3" stroke="url(#st2thl)" stroke-width="2.8" fill="none"/>
<path d="M724.85,315.5 Q721.9,340.4 725.35,365.3" stroke="url(#st2tgr)" stroke-width="3.2" fill="none"/>
<path d="M719.7,315.5 Q716.75,340.4 720.2,365.3" stroke="url(#st2thl)" stroke-width="2.8" fill="none"/>
<path d="M612.25,315.5 Q609.3,340.4 612.75,365.3" stroke="url(#st2tgr)" stroke-width="3.2" fill="none"/>
<path d="M720.8,316.5 Q729.8,320.1 729.3,340.4 Q729.8,360.7 720.8,364.3 Q724.67,340.4 720.8,316.5 Z" fill="#cbd6df"/>
<g filter="url(#soft2)"><rect x="606" y="326" width="118" height="13" fill="#ffffff" opacity="0.35"/><rect x="606" y="339.600" width="115" height="11" fill="#27343f" opacity="0.5"/></g><path d="M722,322 Q727.500,326 727.500,340 Q727.500,355 722,359" stroke="#eef3f7" stroke-width="1.600" fill="none" opacity="0.8"/><rect x="722.600" y="338" width="1.600" height="4" fill="#4c5964"/></g>

</g>

<!-- gold standoff -->
<g id="gold" filter="url(#soft)">
  <defs>
    <linearGradient id="gtop" x1="0" y1="0" x2="1" y2="1">
      <stop offset="0" stop-color="#ab7d2a"/><stop offset="0.5" stop-color="#bd8e35"/><stop offset="1" stop-color="#cfa347"/>
    </linearGradient>
    <linearGradient id="gmid" x1="0" y1="0" x2="1" y2="0">
      <stop offset="0" stop-color="#d9aa4b"/><stop offset="0.55" stop-color="#e2b75b"/><stop offset="0.85" stop-color="#e6bd63"/><stop offset="1" stop-color="#d4a646"/>
    </linearGradient>
    <linearGradient id="gbot" x1="0" y1="0" x2="0" y2="1">
      <stop offset="0" stop-color="#d3a646"/><stop offset="0.3" stop-color="#c79736"/><stop offset="0.85" stop-color="#b3842a"/><stop offset="1" stop-color="#9a7020"/>
    </linearGradient>
    <linearGradient id="glft" gradientUnits="userSpaceOnUse" x1="0" y1="444" x2="0" y2="553"><stop offset="0" stop-color="#b98f3e"/><stop offset="0.09" stop-color="#caa55a"/><stop offset="0.14" stop-color="#f1e2bb"/><stop offset="0.2" stop-color="#c39a4c"/><stop offset="0.24" stop-color="#f3e6c3"/><stop offset="0.31" stop-color="#e9d6a6"/><stop offset="0.36" stop-color="#a9853c"/><stop offset="0.42" stop-color="#84621f"/><stop offset="0.5" stop-color="#7a5a1e"/><stop offset="0.55" stop-color="#a98440"/><stop offset="0.6" stop-color="#efe0b5"/><stop offset="0.7" stop-color="#f1e3bd"/><stop offset="0.75" stop-color="#a88338"/><stop offset="0.82" stop-color="#8a6a2a"/><stop offset="0.87" stop-color="#dcc283"/><stop offset="0.93" stop-color="#d3b46c"/><stop offset="1" stop-color="#a07a2c"/></linearGradient>
  </defs>
  <defs><linearGradient id="gtg" gradientUnits="userSpaceOnUse" x1="0" y1="469.2" x2="0" y2="527.6"><stop offset="0" stop-color="#b98a2c"/><stop offset="0.1" stop-color="#d3a540"/><stop offset="0.22" stop-color="#ecc968"/><stop offset="0.34" stop-color="#e2ba58"/><stop offset="0.45" stop-color="#c08c2a"/><stop offset="0.58" stop-color="#b8862a"/><stop offset="0.68" stop-color="#dcb04c"/><stop offset="0.8" stop-color="#e8c465"/><stop offset="0.9" stop-color="#c6952f"/><stop offset="1" stop-color="#a97a1f"/></linearGradient><linearGradient id="gtgr" gradientUnits="userSpaceOnUse" x1="0" y1="469.2" x2="0" y2="527.6"><stop offset="0" stop-color="#8f6414" stop-opacity="0.8"/><stop offset="0.25" stop-color="#9a6d18" stop-opacity="0.85"/><stop offset="0.5" stop-color="#7d560f" stop-opacity="0.9"/><stop offset="0.8" stop-color="#94681a" stop-opacity="0.85"/><stop offset="1" stop-color="#7d560f" stop-opacity="0.9"/></linearGradient><linearGradient id="gthl" gradientUnits="userSpaceOnUse" x1="0" y1="469.2" x2="0" y2="527.6"><stop offset="0" stop-color="#f2d483" stop-opacity="0.8"/><stop offset="0.12" stop-color="#fff3c2" stop-opacity="1"/><stop offset="0.32" stop-color="#fdeaa8" stop-opacity="1"/><stop offset="0.45" stop-color="#d6a847" stop-opacity="0.5"/><stop offset="0.58" stop-color="#d2a342" stop-opacity="0.5"/><stop offset="0.7" stop-color="#fbe39a" stop-opacity="1"/><stop offset="0.82" stop-color="#f7dc8c" stop-opacity="0.95"/><stop offset="1" stop-color="#cf9f3c" stop-opacity="0.7"/></linearGradient><clipPath id="gtc"><path d="M429,472.6 Q432.05,472.6 435.1,469.2 Q438.01,469.71 439.26,472.6 Q440.96,472.6 442.66,469.2 Q445.57,469.71 446.82,472.6 Q448.52,472.6 450.22,469.2 Q453.13,469.71 454.38,472.6 Q456.08,472.6 457.78,469.2 Q460.69,469.71 461.94,472.6 Q463.64,472.6 465.34,469.2 Q468.25,469.71 469.5,472.6 Q471.2,472.6 472.9,469.2 Q475.81,469.71 477.06,472.6 Q478.76,472.6 480.46,469.2 Q483.37,469.71 484.62,472.6 Q486.32,472.6 488.02,469.2 Q490.93,469.71 492.18,472.6 Q493.88,472.6 495.58,469.2 Q498.49,469.71 499.74,472.6 Q501.44,472.6 503.14,469.2 Q506.05,469.71 507.3,472.6 L508.7,472.6 Q515.2,473.1 515.2,486.79 L515.2,510.01 Q515.2,523.7 508.7,524.2 Q507.17,524.2 505.64,527.6 Q502.73,527.09 501.48,524.2 Q499.78,524.2 498.08,527.6 Q495.17,527.09 493.92,524.2 Q492.22,524.2 490.52,527.6 Q487.61,527.09 486.36,524.2 Q484.66,524.2 482.96,527.6 Q480.05,527.09 478.8,524.2 Q477.1,524.2 475.4,527.6 Q472.49,527.09 471.24,524.2 Q469.54,524.2 467.84,527.6 Q464.93,527.09 463.68,524.2 Q461.98,524.2 460.28,527.6 Q457.37,527.09 456.12,524.2 Q454.42,524.2 452.72,527.6 Q449.81,527.09 448.56,524.2 Q446.86,524.2 445.16,527.6 Q442.25,527.09 441,524.2 Q439.3,524.2 437.6,527.6 Q434.69,527.09 433.44,524.2 L429,524.2 Z"/></clipPath></defs>
<path d="M429,472.6 Q432.05,472.6 435.1,469.2 Q438.01,469.71 439.26,472.6 Q440.96,472.6 442.66,469.2 Q445.57,469.71 446.82,472.6 Q448.52,472.6 450.22,469.2 Q453.13,469.71 454.38,472.6 Q456.08,472.6 457.78,469.2 Q460.69,469.71 461.94,472.6 Q463.64,472.6 465.34,469.2 Q468.25,469.71 469.5,472.6 Q471.2,472.6 472.9,469.2 Q475.81,469.71 477.06,472.6 Q478.76,472.6 480.46,469.2 Q483.37,469.71 484.62,472.6 Q486.32,472.6 488.02,469.2 Q490.93,469.71 492.18,472.6 Q493.88,472.6 495.58,469.2 Q498.49,469.71 499.74,472.6 Q501.44,472.6 503.14,469.2 Q506.05,469.71 507.3,472.6 L508.7,472.6 Q515.2,473.1 515.2,486.79 L515.2,510.01 Q515.2,523.7 508.7,524.2 Q507.17,524.2 505.64,527.6 Q502.73,527.09 501.48,524.2 Q499.78,524.2 498.08,527.6 Q495.17,527.09 493.92,524.2 Q492.22,524.2 490.52,527.6 Q487.61,527.09 486.36,524.2 Q484.66,524.2 482.96,527.6 Q480.05,527.09 478.8,524.2 Q477.1,524.2 475.4,527.6 Q472.49,527.09 471.24,524.2 Q469.54,524.2 467.84,527.6 Q464.93,527.09 463.68,524.2 Q461.98,524.2 460.28,527.6 Q457.37,527.09 456.12,524.2 Q454.42,524.2 452.72,527.6 Q449.81,527.09 448.56,524.2 Q446.86,524.2 445.16,527.6 Q442.25,527.09 441,524.2 Q439.3,524.2 437.6,527.6 Q434.69,527.09 433.44,524.2 L429,524.2 Z" fill="url(#gtg)"/>
<g clip-path="url(#gtc)">
<path d="M438.88,468.2 Q440.73,498.4 441.38,528.6" stroke="url(#gtgr)" stroke-width="2.6" fill="none"/>
<path d="M435.1,468.2 Q436.95,498.4 437.6,528.6" stroke="url(#gthl)" stroke-width="2.2" fill="none"/>
<path d="M446.44,468.2 Q448.29,498.4 448.94,528.6" stroke="url(#gtgr)" stroke-width="2.6" fill="none"/>
<path d="M442.66,468.2 Q444.51,498.4 445.16,528.6" stroke="url(#gthl)" stroke-width="2.2" fill="none"/>
<path d="M454,468.2 Q455.85,498.4 456.5,528.6" stroke="url(#gtgr)" stroke-width="2.6" fill="none"/>
<path d="M450.22,468.2 Q452.07,498.4 452.72,528.6" stroke="url(#gthl)" stroke-width="2.2" fill="none"/>
<path d="M461.56,468.2 Q463.41,498.4 464.06,528.6" stroke="url(#gtgr)" stroke-width="2.6" fill="none"/>
<path d="M457.78,468.2 Q459.63,498.4 460.28,528.6" stroke="url(#gthl)" stroke-width="2.2" fill="none"/>
<path d="M469.12,468.2 Q470.97,498.4 471.62,528.6" stroke="url(#gtgr)" stroke-width="2.6" fill="none"/>
<path d="M465.34,468.2 Q467.19,498.4 467.84,528.6" stroke="url(#gthl)" stroke-width="2.2" fill="none"/>
<path d="M476.68,468.2 Q478.53,498.4 479.18,528.6" stroke="url(#gtgr)" stroke-width="2.6" fill="none"/>
<path d="M472.9,468.2 Q474.75,498.4 475.4,528.6" stroke="url(#gthl)" stroke-width="2.2" fill="none"/>
<path d="M484.24,468.2 Q486.09,498.4 486.74,528.6" stroke="url(#gtgr)" stroke-width="2.6" fill="none"/>
<path d="M480.46,468.2 Q482.31,498.4 482.96,528.6" stroke="url(#gthl)" stroke-width="2.2" fill="none"/>
<path d="M491.8,468.2 Q493.65,498.4 494.3,528.6" stroke="url(#gtgr)" stroke-width="2.6" fill="none"/>
<path d="M488.02,468.2 Q489.87,498.4 490.52,528.6" stroke="url(#gthl)" stroke-width="2.2" fill="none"/>
<path d="M499.36,468.2 Q501.21,498.4 501.86,528.6" stroke="url(#gtgr)" stroke-width="2.6" fill="none"/>
<path d="M495.58,468.2 Q497.43,498.4 498.08,528.6" stroke="url(#gthl)" stroke-width="2.2" fill="none"/>
<path d="M506.92,468.2 Q508.77,498.4 509.42,528.6" stroke="url(#gtgr)" stroke-width="2.6" fill="none"/>
<path d="M503.14,468.2 Q504.99,498.4 505.64,528.6" stroke="url(#gthl)" stroke-width="2.2" fill="none"/>
<path d="M510.7,468.2 Q512.55,498.4 513.2,528.6" stroke="url(#gthl)" stroke-width="2.2" fill="none"/>
<path d="M431.32,468.2 Q433.17,498.4 433.82,528.6" stroke="url(#gtgr)" stroke-width="2.6" fill="none"/>
<path d="M508.2,469.2 Q516.2,472.6 515.7,498.4 Q516.2,524.2 508.2,527.6 Q511.63,498.4 508.2,469.2 Z" fill="#c79837"/>
</g>

  <path d="M302.500,443.500 L420,445 L430,457 L430.300,538 L418.500,553.800 L301.750,552 Q297,545 294.700,539.600 Q291.500,530 290.800,525.500 Q289,510 289.250,500.500 Q289.500,485 290.800,472.400 Q292,462 294.700,455.200 Q298,448 302.500,443.500 Z" fill="url(#glft)"/>
  <!-- top face -->
  <path d="M302.500,443.800 L420,445 L429.800,457 L430,471 L309.600,471.800 L297.800,456.800 Z" fill="url(#gtop)"/>
  <!-- middle face -->
  <path d="M309.600,471.800 L430,471.300 L430.200,532 L306.400,531.700 L301.800,521 Q299.800,500 302.500,483.300 Z" fill="url(#gmid)"/>
  <!-- bottom face -->
  <path d="M306.400,531.900 L430.200,532.300 L430.300,538 L418.500,553.800 L301.750,552 L297.800,538 Z" fill="url(#gbot)"/>
  <path d="M309.600,471.700 L430,471.200" stroke="#ecca78" stroke-width="1" opacity="0.8"/><path d="M309.600,471.800 L302.500,483.300 Q299.800,500 301.800,521 L306.400,531.700" stroke="#f3e3b8" stroke-width="1.500" fill="none" opacity="0.85"/>
  <path d="M306.400,531.800 L430,532.200" stroke="#e9c670" stroke-width="1.200" opacity="0.8"/>
</g>

<!-- standoff 4 -->
<g id="st4" filter="url(#soft)">
  <defs>
    <linearGradient id="st4fl" x1="0" y1="0" x2="0" y2="1"><stop offset="0" stop-color="#aab0b3"/><stop offset="0.1" stop-color="#bbc0c3"/><stop offset="0.3" stop-color="#b3b8bb"/><stop offset="0.36" stop-color="#d3d7d9"/><stop offset="0.42" stop-color="#b5babd"/><stop offset="0.8" stop-color="#b0b5b8"/><stop offset="1" stop-color="#9da3a6"/></linearGradient>
    <linearGradient id="st4top" gradientUnits="userSpaceOnUse" x1="0" y1="576" x2="0" y2="639"><stop offset="0" stop-color="#c3c7c9"/><stop offset="0.07" stop-color="#d3d6d8"/><stop offset="0.18" stop-color="#e6e8e9"/><stop offset="0.35" stop-color="#fafafa"/><stop offset="0.75" stop-color="#fdfdfd"/><stop offset="0.88" stop-color="#dcdfe0"/><stop offset="0.95" stop-color="#d0d3d5"/><stop offset="0.975" stop-color="#ffffff"/><stop offset="1" stop-color="#f4f5f5"/></linearGradient>
    <linearGradient id="st4topl" gradientUnits="userSpaceOnUse" x1="148" y1="0" x2="216" y2="0"><stop offset="0" stop-color="#b9bdc0" stop-opacity="0.95"/><stop offset="0.08" stop-color="#cfd2d4" stop-opacity="0.8"/><stop offset="0.2" stop-color="#e6e8e9" stop-opacity="0.4"/><stop offset="0.35" stop-color="#fff" stop-opacity="0"/><stop offset="0.8" stop-color="#fff" stop-opacity="0"/><stop offset="0.9" stop-color="#dfe1e3" stop-opacity="0.6"/><stop offset="1" stop-color="#c6cacc" stop-opacity="0.95"/></linearGradient>
    <linearGradient id="st4dk" gradientUnits="userSpaceOnUse" x1="147" y1="645" x2="216" y2="675"><stop offset="0" stop-color="#51575b"/><stop offset="0.2" stop-color="#40464a"/><stop offset="0.5" stop-color="#27292b"/><stop offset="0.75" stop-color="#262728"/><stop offset="0.92" stop-color="#333537"/><stop offset="1" stop-color="#3c3e41"/></linearGradient>
    <linearGradient id="st4nk" x1="0" y1="0" x2="0" y2="1">
      <stop offset="0" stop-color="#c9ced2"/><stop offset="0.2" stop-color="#eceef0"/><stop offset="0.45" stop-color="#c5cacf"/><stop offset="0.6" stop-color="#a4abb1"/><stop offset="0.8" stop-color="#d6dadd"/><stop offset="1" stop-color="#b5bbc0"/>
    </linearGradient>
  </defs>
  <path d="M150,597.300 L146,597.800 Q141.500,600 141.200,610 L141.200,660 Q141.600,669.500 146,671 L151,671.500 Z" fill="url(#st4fl)"/><path d="M146,598 Q141.900,600 141.800,610 L141.800,660 Q142,669 146,670.800" stroke="#d9dddf" stroke-width="1.200" fill="none" opacity="0.9"/>
  <rect x="214" y="620" width="4" height="36" fill="url(#st4nk)"/>
  <defs><linearGradient id="st4tg" gradientUnits="userSpaceOnUse" x1="0" y1="616.2" x2="0" y2="661.2"><stop offset="0" stop-color="#c3cad0"/><stop offset="0.12" stop-color="#d5dadf"/><stop offset="0.25" stop-color="#cdd3d8"/><stop offset="0.34" stop-color="#e6eaed"/><stop offset="0.44" stop-color="#dfe3e7"/><stop offset="0.52" stop-color="#aeb6bd"/><stop offset="0.6" stop-color="#8f98a0"/><stop offset="0.78" stop-color="#9aa3ab"/><stop offset="0.9" stop-color="#b5bcc3"/><stop offset="1" stop-color="#a3abb2"/></linearGradient><linearGradient id="st4tgr" gradientUnits="userSpaceOnUse" x1="0" y1="616.2" x2="0" y2="661.2"><stop offset="0" stop-color="#8c969e" stop-opacity="0.75"/><stop offset="0.3" stop-color="#929ca4" stop-opacity="0.8"/><stop offset="0.5" stop-color="#737c84" stop-opacity="0.9"/><stop offset="0.75" stop-color="#6b747c" stop-opacity="0.9"/><stop offset="1" stop-color="#7b858d" stop-opacity="0.85"/></linearGradient><linearGradient id="st4thl" gradientUnits="userSpaceOnUse" x1="0" y1="616.2" x2="0" y2="661.2"><stop offset="0" stop-color="#e9edf0" stop-opacity="0.9"/><stop offset="0.2" stop-color="#f4f6f8" stop-opacity="0.95"/><stop offset="0.4" stop-color="#ffffff" stop-opacity="1"/><stop offset="0.52" stop-color="#d0d6db" stop-opacity="0.6"/><stop offset="0.65" stop-color="#b7bfc6" stop-opacity="0.7"/><stop offset="0.85" stop-color="#d3d9de" stop-opacity="0.9"/><stop offset="1" stop-color="#c6cdd3" stop-opacity="0.85"/></linearGradient><clipPath id="st4tc"><path d="M215.3,620.4 Q218.45,620.4 221.6,616.2 Q225.6,616.83 227.32,620.4 Q229.66,620.4 232,616.2 Q236,616.83 237.72,620.4 Q240.06,620.4 242.4,616.2 Q246.4,616.83 248.12,620.4 Q250.46,620.4 252.8,616.2 Q256.8,616.83 258.52,620.4 L258.9,620.4 Q263.4,620.9 263.4,630.47 L263.4,646.94 Q263.4,656.5 258.9,657 Q258.25,657 257.6,661.2 Q253.6,660.57 251.88,657 Q249.54,657 247.2,661.2 Q243.2,660.57 241.48,657 Q239.14,657 236.8,661.2 Q232.8,660.57 231.08,657 Q228.74,657 226.4,661.2 Q222.4,660.57 220.68,657 L215.3,657 Z"/></clipPath></defs>
<path d="M215.3,620.4 Q218.45,620.4 221.6,616.2 Q225.6,616.83 227.32,620.4 Q229.66,620.4 232,616.2 Q236,616.83 237.72,620.4 Q240.06,620.4 242.4,616.2 Q246.4,616.83 248.12,620.4 Q250.46,620.4 252.8,616.2 Q256.8,616.83 258.52,620.4 L258.9,620.4 Q263.4,620.9 263.4,630.47 L263.4,646.94 Q263.4,656.5 258.9,657 Q258.25,657 257.6,661.2 Q253.6,660.57 251.88,657 Q249.54,657 247.2,661.2 Q243.2,660.57 241.48,657 Q239.14,657 236.8,661.2 Q232.8,660.57 231.08,657 Q228.74,657 226.4,661.2 Q222.4,660.57 220.68,657 L215.3,657 Z" fill="url(#st4tg)"/>
<g clip-path="url(#st4tc)">
<path d="M226.8,615.2 Q230,638.7 231.6,662.2" stroke="url(#st4tgr)" stroke-width="3.6" fill="none"/>
<path d="M221.6,615.2 Q224.8,638.7 226.4,662.2" stroke="url(#st4thl)" stroke-width="3.2" fill="none"/>
<path d="M237.2,615.2 Q240.4,638.7 242,662.2" stroke="url(#st4tgr)" stroke-width="3.6" fill="none"/>
<path d="M232,615.2 Q235.2,638.7 236.8,662.2" stroke="url(#st4thl)" stroke-width="3.2" fill="none"/>
<path d="M247.6,615.2 Q250.8,638.7 252.4,662.2" stroke="url(#st4tgr)" stroke-width="3.6" fill="none"/>
<path d="M242.4,615.2 Q245.6,638.7 247.2,662.2" stroke="url(#st4thl)" stroke-width="3.2" fill="none"/>
<path d="M258,615.2 Q261.2,638.7 262.8,662.2" stroke="url(#st4tgr)" stroke-width="3.6" fill="none"/>
<path d="M252.8,615.2 Q256,638.7 257.6,662.2" stroke="url(#st4thl)" stroke-width="3.2" fill="none"/>
<path d="M216.4,615.2 Q219.6,638.7 221.2,662.2" stroke="url(#st4tgr)" stroke-width="3.6" fill="none"/>
<path d="M258.4,616.2 Q264.4,620.4 263.9,638.7 Q264.4,657 258.4,661.2 Q260.92,638.7 258.4,616.2 Z" fill="#c2c9cf"/>
<g filter="url(#soft2)"><rect x="214" y="628" width="52" height="4.200" fill="#ffffff" opacity="0.55"/><rect x="214" y="636.800" width="52" height="2" fill="#ffffff" opacity="0.45"/><rect x="214" y="640" width="52" height="10" fill="#6c747b" opacity="0.42"/></g></g>

  <path d="M151.600,576.300 L212.500,579 L216.300,583.800 L216.300,694 L212.500,698 L150.600,696.300 L147.300,665 Z" fill="#b9bdc0"/>
  <path d="M152.500,576.100 L210,578.600 L215,583 Q216.300,600 215.200,615 Q214,628 210.500,638 L149,637.500 L148.200,599 Q149,586 152.500,576.100 Z" fill="url(#st4top)"/>
  <path d="M152.500,576.100 L210,578.600 L215,583 Q216.300,600 215.200,615 Q214,628 210.500,638 L149,637.500 L148.200,599 Q149,586 152.500,576.100 Z" fill="url(#st4topl)"/>
  <path d="M151.250,638 L206.250,640.800 Q212.500,648 215,661 L214.400,685 Q212.500,692 208.750,696.300 L153.750,695.600 Q149.500,684 147.500,671 L147.500,655 Q148.500,645 151.250,638 Z" fill="url(#st4dk)"/>
</g>

<!-- standoff 5 -->
<g id="st5" filter="url(#soft)">
  <defs>
    <linearGradient id="st5top" gradientUnits="userSpaceOnUse" x1="486" y1="0" x2="626.500" y2="0"><stop offset="0" stop-color="#a9bccb"/><stop offset="0.03" stop-color="#c3d1dd"/><stop offset="0.1" stop-color="#e4ebf1"/><stop offset="0.3" stop-color="#fbfcfd"/><stop offset="0.85" stop-color="#ffffff"/><stop offset="0.96" stop-color="#f1f5f8"/><stop offset="1" stop-color="#dbe5ed"/></linearGradient>
    <linearGradient id="st5topv" gradientUnits="userSpaceOnUse" x1="0" y1="597" x2="0" y2="649"><stop offset="0" stop-color="#9fb0bf" stop-opacity="0.95"/><stop offset="0.05" stop-color="#c3d0db" stop-opacity="0.6"/><stop offset="0.14" stop-color="#e6ecf1" stop-opacity="0.3"/><stop offset="0.25" stop-color="#fff" stop-opacity="0"/><stop offset="0.85" stop-color="#fff" stop-opacity="0"/><stop offset="0.895" stop-color="#9fb0be" stop-opacity="0.9"/><stop offset="0.935" stop-color="#ffffff" stop-opacity="1"/><stop offset="1" stop-color="#f2f6f9" stop-opacity="1"/></linearGradient>
    <linearGradient id="st5dk" gradientUnits="userSpaceOnUse" x1="495" y1="640" x2="605" y2="725"><stop offset="0" stop-color="#58636b"/><stop offset="0.35" stop-color="#4f5a62"/><stop offset="0.5" stop-color="#4a555d"/><stop offset="0.65" stop-color="#313a40"/><stop offset="0.85" stop-color="#21262a"/><stop offset="1" stop-color="#1f2326"/></linearGradient>
    <linearGradient id="st5bd" gradientUnits="userSpaceOnUse" x1="0" y1="597" x2="0" y2="713"><stop offset="0" stop-color="#a9bdcd"/><stop offset="0.04" stop-color="#c3d3e0"/><stop offset="0.3" stop-color="#c9d8e4"/><stop offset="0.42" stop-color="#b7cadb"/><stop offset="0.55" stop-color="#c3d3e0"/><stop offset="0.9" stop-color="#b4c5d3"/><stop offset="0.96" stop-color="#a3b6c5"/><stop offset="1" stop-color="#8297a8"/></linearGradient>
    <linearGradient id="st5nk" gradientUnits="userSpaceOnUse" x1="0" y1="628.500" x2="0" y2="683.500"><stop offset="0" stop-color="#b3c6d5"/><stop offset="0.1" stop-color="#c9d8e4"/><stop offset="0.19" stop-color="#dbe6ee"/><stop offset="0.21" stop-color="#fafcfd"/><stop offset="0.28" stop-color="#fafcfd"/><stop offset="0.33" stop-color="#c9d8e4"/><stop offset="0.41" stop-color="#eef3f7"/><stop offset="0.47" stop-color="#f4f8fa"/><stop offset="0.5" stop-color="#8299ac"/><stop offset="0.72" stop-color="#889fb2"/><stop offset="0.8" stop-color="#a9bfd0"/><stop offset="1" stop-color="#a3b9ca"/></linearGradient>
  </defs>
  <rect x="632" y="628.500" width="16" height="55" fill="url(#st5nk)"/>
  <defs><linearGradient id="st5tg" gradientUnits="userSpaceOnUse" x1="0" y1="625.2" x2="0" y2="689.2"><stop offset="0" stop-color="#bdcfdd"/><stop offset="0.15" stop-color="#cddbe7"/><stop offset="0.24" stop-color="#e9f0f5"/><stop offset="0.3" stop-color="#f4f8fa"/><stop offset="0.36" stop-color="#d3e0ea"/><stop offset="0.44" stop-color="#eaf1f6"/><stop offset="0.5" stop-color="#9fb5c6"/><stop offset="0.65" stop-color="#8ba2b5"/><stop offset="0.72" stop-color="#a3b9ca"/><stop offset="0.9" stop-color="#b3c7d6"/><stop offset="1" stop-color="#9db3c4"/></linearGradient><linearGradient id="st5tgr" gradientUnits="userSpaceOnUse" x1="0" y1="625.2" x2="0" y2="689.2"><stop offset="0" stop-color="#8fa8bc" stop-opacity="0.75"/><stop offset="0.3" stop-color="#93abbe" stop-opacity="0.75"/><stop offset="0.5" stop-color="#6d869a" stop-opacity="0.85"/><stop offset="0.7" stop-color="#6f889c" stop-opacity="0.85"/><stop offset="1" stop-color="#7f98ab" stop-opacity="0.8"/></linearGradient><linearGradient id="st5thl" gradientUnits="userSpaceOnUse" x1="0" y1="625.2" x2="0" y2="689.2"><stop offset="0" stop-color="#e3ecf3" stop-opacity="0.9"/><stop offset="0.2" stop-color="#f2f7fa" stop-opacity="0.95"/><stop offset="0.4" stop-color="#ffffff" stop-opacity="1"/><stop offset="0.5" stop-color="#c1d2df" stop-opacity="0.6"/><stop offset="0.65" stop-color="#a9bfd0" stop-opacity="0.7"/><stop offset="0.85" stop-color="#cddbe6" stop-opacity="0.9"/><stop offset="1" stop-color="#bdcedc" stop-opacity="0.85"/></linearGradient><clipPath id="st5tc"><path d="M645,629.6 Q647.25,629.6 649.5,625.2 Q653.93,625.86 655.83,629.6 Q658.41,629.6 661,625.2 Q665.43,625.86 667.33,629.6 Q669.96,629.6 672.6,625.2 Q677.03,625.86 678.93,629.6 Q680.96,629.6 683,625.2 Q687.43,625.86 689.33,629.6 L692.3,629.6 Q696.8,630.1 696.8,644.78 L696.8,669.62 Q696.8,684.3 692.3,684.8 Q690.25,684.8 688.2,689.2 Q683.77,688.54 681.88,684.8 Q679.84,684.8 677.8,689.2 Q673.37,688.54 671.48,684.8 L671.38,684.8 Q668.79,684.8 666.2,689.2 Q661.77,688.54 659.88,684.8 Q657.29,684.8 654.7,689.2 Q650.27,688.54 648.38,684.8 L645,684.8 Z"/></clipPath></defs>
<path d="M645,629.6 Q647.25,629.6 649.5,625.2 Q653.93,625.86 655.83,629.6 Q658.41,629.6 661,625.2 Q665.43,625.86 667.33,629.6 Q669.96,629.6 672.6,625.2 Q677.03,625.86 678.93,629.6 Q680.96,629.6 683,625.2 Q687.43,625.86 689.33,629.6 L692.3,629.6 Q696.8,630.1 696.8,644.78 L696.8,669.62 Q696.8,684.3 692.3,684.8 Q690.25,684.8 688.2,689.2 Q683.77,688.54 681.88,684.8 Q679.84,684.8 677.8,689.2 Q673.37,688.54 671.48,684.8 L671.38,684.8 Q668.79,684.8 666.2,689.2 Q661.77,688.54 659.88,684.8 Q657.29,684.8 654.7,689.2 Q650.27,688.54 648.38,684.8 L645,684.8 Z" fill="url(#st5tg)"/>
<g clip-path="url(#st5tc)">
<path d="M655.25,624.2 Q658.65,657.2 660.45,690.2" stroke="url(#st5tgr)" stroke-width="3.4" fill="none"/>
<path d="M649.5,624.2 Q652.9,657.2 654.7,690.2" stroke="url(#st5thl)" stroke-width="3.0" fill="none"/>
<path d="M666.75,624.2 Q670.15,657.2 671.95,690.2" stroke="url(#st5tgr)" stroke-width="3.4" fill="none"/>
<path d="M661,624.2 Q664.4,657.2 666.2,690.2" stroke="url(#st5thl)" stroke-width="3.0" fill="none"/>
<path d="M678.35,624.2 Q681.75,657.2 683.55,690.2" stroke="url(#st5tgr)" stroke-width="3.4" fill="none"/>
<path d="M672.6,624.2 Q676,657.2 677.8,690.2" stroke="url(#st5thl)" stroke-width="3.0" fill="none"/>
<path d="M688.75,624.2 Q692.15,657.2 693.95,690.2" stroke="url(#st5tgr)" stroke-width="3.4" fill="none"/>
<path d="M683,624.2 Q686.4,657.2 688.2,690.2" stroke="url(#st5thl)" stroke-width="3.0" fill="none"/>
<path d="M692.9,624.2 Q696.3,657.2 698.1,690.2" stroke="url(#st5thl)" stroke-width="3.0" fill="none"/>
<path d="M691.8,625.2 Q697.8,629.6 697.3,657.2 Q697.8,684.8 691.8,689.2 Q694.32,657.2 691.8,625.2 Z" fill="#bfd0dd"/>
<g filter="url(#soft2)"><rect x="632" y="639.500" width="68" height="4.500" fill="#ffffff" opacity="0.6"/><rect x="632" y="651.600" width="68" height="2.800" fill="#ffffff" opacity="0.5"/><rect x="632" y="656" width="68" height="13" fill="#63798c" opacity="0.4"/></g></g>

  <path d="M497,597.400 L624,598.800 L633,606.500 L634.200,612 L634.200,706 L629,713 L498,713 Q492,710 489.500,703 Q485.800,680 486,660 Q486.500,648 489,642 L490,611 Q491.500,601 497,597.400 Z" fill="url(#st5bd)"/>
  <path d="M497,597.400 L621.500,598.800 Q626,600 626.300,605 L626.300,634 Q625.500,642 621,645.500 L621,648.500 L489.500,648.500 L489,642 L490,611 Q491.500,601 497,597.400 Z" fill="url(#st5top)"/>
  <path d="M497,597.400 L621.500,598.800 Q626,600 626.300,605 L626.300,634 Q625.500,642 621,645.500 L621,648.500 L489.500,648.500 L489,642 L490,611 Q491.500,601 497,597.400 Z" fill="url(#st5topv)"/>
  <path d="M490,649.200 L620,649 Q625.500,655 626,662 L623,704 L492,703 Q487,690 486.200,672 Q486.300,656 490,649.200 Z" fill="url(#st5dk)"/>
  <path d="M626.500,662 L623.500,704 L629,712.500 L634,706 L634,650 Z" fill="#c3d2de" opacity="0.6"/><path d="M631.500,608 L631.500,704" stroke="#e3ecf3" stroke-width="1.600" opacity="0.7"/>
  <path d="M492,704.500 L623,705" stroke="#d3dee7" stroke-width="1.400" opacity="0.8"/>
</g>
<!-- labels and arrows -->
<g id="labels" filter="url(#tsoft)">
<text class="ser" x="113.3" y="199.6" font-size="25.5" textLength="210.9" lengthAdjust="spacingAndGlyphs">M2.0 *2.5mm screw</text>
<text class="ser" x="511.6" y="199.6" font-size="25.5" textLength="188" lengthAdjust="spacingAndGlyphs">m3.0 *3mm screw</text>
<text class="san" x="272.2" y="304.4" font-size="17.7" textLength="9.7" lengthAdjust="spacingAndGlyphs">2</text><path d="M282.9,304.4 V295.5 M282.9,298.5 Q282.9,296.15 284.96,296.15 Q286.62,296.15 286.62,298.5 V304.4 M286.62,298.5 Q286.62,296.15 288.68,296.15 Q290.34,296.15 290.34,298.5 V304.4" stroke="#0c0c0c" stroke-width="1.3" fill="none"/><path d="M292.62,304.4 V295.5 M292.62,298.5 Q292.62,296.15 294.68,296.15 Q296.34,296.15 296.34,298.5 V304.4 M296.34,298.5 Q296.34,296.15 298.4,296.15 Q300.06,296.15 300.06,298.5 V304.4" stroke="#0c0c0c" stroke-width="1.3" fill="none"/>
<path d="M263.9,320.2 L303.9,320.2" stroke="#0c0c0c" stroke-width="1.25" fill="none"/><path d="M255.9,320.2 L264.9,316.9 L264.9,323.5 Z" fill="#0c0c0c"/><path d="M311.9,320.2 L302.9,316.9 L302.9,323.5 Z" fill="#0c0c0c"/>
<path d="M150.4,426.1 L239.9,426.1" stroke="#0c0c0c" stroke-width="1.25" fill="none"/><path d="M140.9,426.1 L151.4,423.1 L151.4,429.1 Z" fill="#0c0c0c"/><path d="M249.4,426.1 L238.9,423.1 L238.9,429.1 Z" fill="#0c0c0c"/>
<text class="ser" x="169" y="458.7" font-size="19" textLength="53.2" lengthAdjust="spacingAndGlyphs">4.5mm</text>
<text class="san" x="666.4" y="292.4" font-size="17.3" textLength="10" lengthAdjust="spacingAndGlyphs">4</text><path d="M677.4,292.4 V283.9 M677.4,286.9 Q677.4,284.55 679.46,284.55 Q681.12,284.55 681.12,286.9 V292.4 M681.12,286.9 Q681.12,284.55 683.18,284.55 Q684.84,284.55 684.84,286.9 V292.4" stroke="#0c0c0c" stroke-width="1.3" fill="none"/><path d="M687.12,292.4 V283.9 M687.12,286.9 Q687.12,284.55 689.18,284.55 Q690.84,284.55 690.84,286.9 V292.4 M690.84,286.9 Q690.84,284.55 692.9,284.55 Q694.56,284.55 694.56,286.9 V292.4" stroke="#0c0c0c" stroke-width="1.3" fill="none"/>
<path d="M641.8,301.8 L719.6,301.8" stroke="#0c0c0c" stroke-width="1.25" fill="none"/><path d="M633.4,301.8 L642.8,298.6 L642.8,305 Z" fill="#0c0c0c"/><path d="M728,301.8 L718.6,298.6 L718.6,305 Z" fill="#0c0c0c"/>
<path d="M470.8,418 L618.5,418" stroke="#0c0c0c" stroke-width="1.25" fill="none"/><path d="M461.3,418 L471.8,415 L471.8,421 Z" fill="#0c0c0c"/><path d="M628,418 L617.5,415 L617.5,421 Z" fill="#0c0c0c"/>
<text class="ser" x="526.6" y="442.5" font-size="19" textLength="39.9" lengthAdjust="spacingAndGlyphs">6mm</text>
<path d="M438.9,536.8 L509.8,536.8" stroke="#0c0c0c" stroke-width="1.9" fill="none"/><path d="M432.4,536.8 L439.9,532.8 L439.9,540.8 Z" fill="#0c0c0c"/><path d="M516.3,536.8 L508.8,532.8 L508.8,540.8 Z" fill="#0c0c0c"/>
<text class="ser" x="452" y="554.7" font-size="18.5" textLength="37.8" lengthAdjust="spacingAndGlyphs">6mm</text>
<path d="M297.1,568.2 L414.5,568.2" stroke="#0c0c0c" stroke-width="1.35" fill="none"/><path d="M287.6,568.2 L298.1,565 L298.1,571.4 Z" fill="#0c0c0c"/><path d="M424,568.2 L413.5,565 L413.5,571.4 Z" fill="#0c0c0c"/>
<text class="ser" x="336.6" y="588.2" font-size="19" textLength="39.3" lengthAdjust="spacingAndGlyphs">6mm</text>
<text class="san" x="227.2" y="596.8" font-size="18" textLength="10" lengthAdjust="spacingAndGlyphs">2</text><path d="M237.9,596.8 V587.8 M237.9,590.8 Q237.9,588.45 239.97,588.45 Q241.65,588.45 241.65,590.8 V596.8 M241.65,590.8 Q241.65,588.45 243.72,588.45 Q245.4,588.45 245.4,590.8 V596.8" stroke="#0c0c0c" stroke-width="1.3" fill="none"/><path d="M247.7,596.8 V587.8 M247.7,590.8 Q247.7,588.45 249.78,588.45 Q251.45,588.45 251.45,590.8 V596.8 M251.45,590.8 Q251.45,588.45 253.53,588.45 Q255.2,588.45 255.2,590.8 V596.8" stroke="#0c0c0c" stroke-width="1.3" fill="none"/>
<path d="M224.3,605.3 L257,605.3" stroke="#0c0c0c" stroke-width="1.25" fill="none"/><path d="M216.3,605.3 L225.3,602.3 L225.3,608.3 Z" fill="#0c0c0c"/><path d="M265,605.3 L256,602.3 L256,608.3 Z" fill="#0c0c0c"/>
<path d="M157.6,724 L206,724" stroke="#0c0c0c" stroke-width="1.25" fill="none"/><path d="M148.8,724 L158.6,721.2 L158.6,726.8 Z" fill="#0c0c0c"/><path d="M214.8,724 L205,721.2 L205,726.8 Z" fill="#0c0c0c"/>
<text class="san" x="155.9" y="748.2" font-size="17.9" textLength="10" lengthAdjust="spacingAndGlyphs">2</text><rect x="167.1" y="746.5" width="1.7" height="1.7" fill="#0c0c0c"/><text class="san" x="175.7" y="748.2" font-size="17.9" textLength="8.9" lengthAdjust="spacingAndGlyphs">7</text><path d="M185.85,748.2 V739.7 M185.85,742.7 Q185.85,740.35 187.92,740.35 Q189.6,740.35 189.6,742.7 V748.2 M189.6,742.7 Q189.6,740.35 191.67,740.35 Q193.35,740.35 193.35,742.7 V748.2" stroke="#0c0c0c" stroke-width="1.3" fill="none"/><path d="M195.6,748.2 V739.7 M195.6,742.7 Q195.6,740.35 197.67,740.35 Q199.35,740.35 199.35,742.7 V748.2 M199.35,742.7 Q199.35,740.35 201.42,740.35 Q203.1,740.35 203.1,742.7 V748.2" stroke="#0c0c0c" stroke-width="1.3" fill="none"/>
<text class="san" x="640.3" y="601.8" font-size="17.3" textLength="9.8" lengthAdjust="spacingAndGlyphs">2</text><rect x="651.6" y="600.1" width="1.8" height="1.7" fill="#0c0c0c"/><text class="san" x="659.4" y="601.8" font-size="17.3" textLength="9.8" lengthAdjust="spacingAndGlyphs">2</text><path d="M669.7,601.8 V593.5 M669.7,596.5 Q669.7,594.15 671.75,594.15 Q673.4,594.15 673.4,596.5 V601.8 M673.4,596.5 Q673.4,594.15 675.45,594.15 Q677.1,594.15 677.1,596.5 V601.8" stroke="#0c0c0c" stroke-width="1.3" fill="none"/><path d="M679.3,601.8 V593.5 M679.3,596.5 Q679.3,594.15 681.35,594.15 Q683,594.15 683,596.5 V601.8 M683,596.5 Q683,594.15 685.05,594.15 Q686.7,594.15 686.7,596.5 V601.8" stroke="#0c0c0c" stroke-width="1.3" fill="none"/>
<path d="M644,617.7 L685.7,617.7" stroke="#0c0c0c" stroke-width="1.25" fill="none"/><path d="M636,617.7 L645,614.7 L645,620.7 Z" fill="#0c0c0c"/><path d="M693.7,617.7 L684.7,614.7 L684.7,620.7 Z" fill="#0c0c0c"/>
<path d="M499.1,740.3 L624.5,740.3" stroke="#0c0c0c" stroke-width="1.25" fill="none"/><path d="M489.6,740.3 L500.1,737.3 L500.1,743.3 Z" fill="#0c0c0c"/><path d="M634,740.3 L623.5,737.3 L623.5,743.3 Z" fill="#0c0c0c"/>
<text class="ser" x="542.3" y="764.3" font-size="19" textLength="39" lengthAdjust="spacingAndGlyphs">6mm</text>
</g>
</svg>
</body>
</html>
